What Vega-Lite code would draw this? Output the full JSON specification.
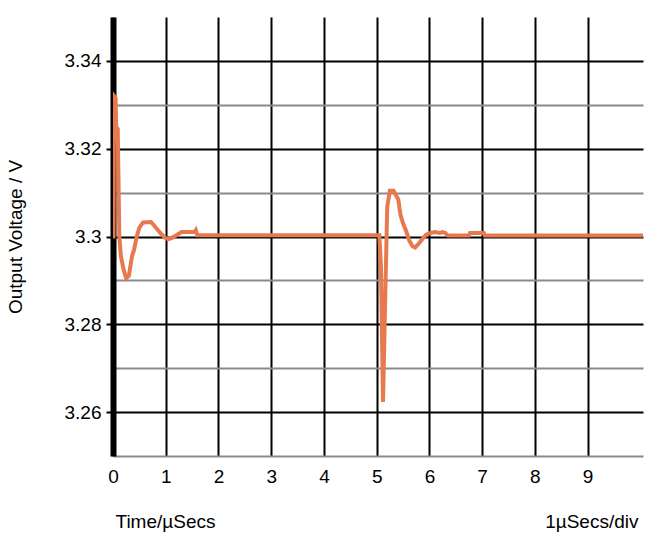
{
  "$schema": "https://vega.github.io/schema/vega-lite/v6.json",
  "autosize": "none",
  "width": 530,
  "height": 439,
  "padding": {"left": 113, "top": 17, "right": 19, "bottom": 94},
  "background": "white",
  "config": {
    "view": {"stroke": null},
    "font": "Liberation Sans",
    "axis": {"labelFont": "Liberation Sans", "titleFont": "Liberation Sans", "labelColor": "black", "titleColor": "black", "titleFontWeight": "normal"}
  },
  "data": {
    "values": [
      {"t": 0, "v": 3.3},
      {"t": 0.01, "v": 3.3},
      {"t": 0.02, "v": 3.332},
      {"t": 0.05, "v": 3.3315},
      {"t": 0.06, "v": 3.325},
      {"t": 0.09, "v": 3.3245},
      {"t": 0.12, "v": 3.3},
      {"t": 0.15, "v": 3.2955},
      {"t": 0.2, "v": 3.2925},
      {"t": 0.25, "v": 3.2905},
      {"t": 0.3, "v": 3.291},
      {"t": 0.36, "v": 3.2955},
      {"t": 0.4, "v": 3.297},
      {"t": 0.45, "v": 3.3},
      {"t": 0.5, "v": 3.302},
      {"t": 0.57, "v": 3.3032},
      {"t": 0.72, "v": 3.3033},
      {"t": 0.78, "v": 3.3025},
      {"t": 0.85, "v": 3.3015},
      {"t": 0.92, "v": 3.3005},
      {"t": 1.0, "v": 3.2996},
      {"t": 1.05, "v": 3.2994},
      {"t": 1.12, "v": 3.2997},
      {"t": 1.2, "v": 3.3003},
      {"t": 1.3, "v": 3.301},
      {"t": 1.55, "v": 3.301},
      {"t": 1.57, "v": 3.3014},
      {"t": 1.6, "v": 3.3003},
      {"t": 5.05, "v": 3.3003},
      {"t": 5.08, "v": 3.2935},
      {"t": 5.12, "v": 3.2623},
      {"t": 5.16, "v": 3.285},
      {"t": 5.2, "v": 3.3068},
      {"t": 5.25, "v": 3.3104},
      {"t": 5.32, "v": 3.3104},
      {"t": 5.36, "v": 3.3095},
      {"t": 5.41, "v": 3.3084},
      {"t": 5.45, "v": 3.305},
      {"t": 5.5, "v": 3.303},
      {"t": 5.56, "v": 3.3012},
      {"t": 5.62, "v": 3.299},
      {"t": 5.68, "v": 3.2978},
      {"t": 5.73, "v": 3.2975},
      {"t": 5.8, "v": 3.2984},
      {"t": 5.87, "v": 3.2995},
      {"t": 5.94, "v": 3.3004},
      {"t": 6.02, "v": 3.3008},
      {"t": 6.1, "v": 3.301},
      {"t": 6.2, "v": 3.3008},
      {"t": 6.25, "v": 3.301},
      {"t": 6.3, "v": 3.3008},
      {"t": 6.35, "v": 3.3002},
      {"t": 6.75, "v": 3.3002},
      {"t": 6.77, "v": 3.3008},
      {"t": 7.03, "v": 3.3008},
      {"t": 7.05, "v": 3.3002},
      {"t": 10.05, "v": 3.3002}
    ]
  },
  "layer": [
    {
      "mark": {"type": "line", "color": "#E8794F", "strokeWidth": 4, "clip": true},
      "encoding": {
        "x": {
          "field": "t", "type": "quantitative",
          "scale": {"domain": [0, 10.05], "nice": false, "zero": false},
          "axis": {
            "orient": "bottom",
            "values": [0, 1, 2, 3, 4, 5, 6, 7, 8, 9],
            "grid": true, "gridColor": "black", "gridWidth": 2, "gridOpacity": 1,
            "domain": false, "ticks": false, "labelFlush": false,
            "labelFontSize": 19, "labelPadding": 11,
            "title": "Time/µSecs", "titleFontSize": 19,
            "titleX": 2, "titleY": 65, "titleAlign": "left", "titleBaseline": "middle", "titleAngle": 0
          }
        },
        "y": {
          "field": "v", "type": "quantitative",
          "scale": {"domain": [3.25, 3.35], "nice": false, "zero": false},
          "axis": {
            "orient": "left",
            "values": [3.25, 3.26, 3.27, 3.28, 3.29, 3.3, 3.31, 3.32, 3.33, 3.34],
            "grid": true,
            "gridColor": {"condition": {"test": "round(datum.value*100) % 2 === 0", "value": "black"}, "value": "#8a8a8a"},
            "gridWidth": 2, "gridOpacity": 1,
            "domain": true, "domainColor": "black", "domainWidth": 6,
            "ticks": true, "tickColor": "black", "tickWidth": 2, "tickSize": 7,
            "tickOpacity": {"condition": {"test": "round(datum.value*100) % 2 === 0", "value": 1}, "value": 0},
            "labelExpr": "round(datum.value*100) % 2 === 0 ? format(datum.value, '~g') : ''",
            "labelFontSize": 19, "labelPadding": 5, "labelFlush": false,
            "title": "Output Voltage / V", "titleFontSize": 19,
            "titleX": -98, "titleY": 219.5, "titleAngle": -90, "titleAlign": "center", "titleBaseline": "middle"
          }
        }
      }
    },
    {
      "mark": {"type": "line", "strokeOpacity": 0},
      "encoding": {
        "x": {
          "field": "t", "type": "quantitative",
          "scale": {"domain": [0, 10.05], "nice": false, "zero": false},
          "axis": {
            "orient": "top",
            "grid": false, "domain": false, "ticks": false, "labels": false,
            "title": "1µSecs/div", "titleFontSize": 19,
            "titleX": 525, "titleY": 504, "titleAlign": "right", "titleBaseline": "middle", "titleAngle": 0
          }
        }
      }
    }
  ],
  "resolve": {"axis": {"x": "independent"}}
}
